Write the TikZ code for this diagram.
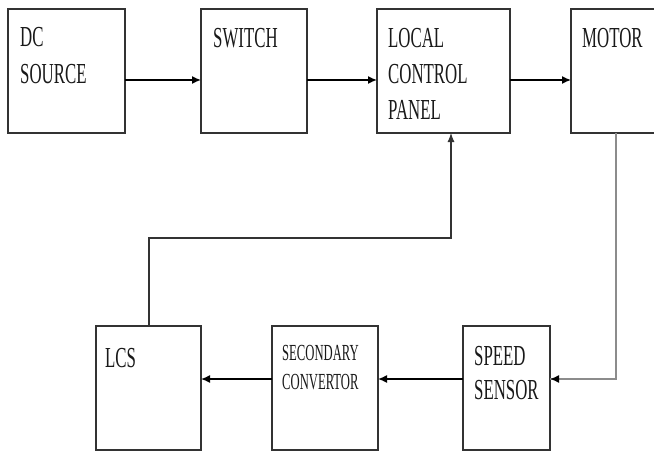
\documentclass[tikz,border=0pt]{standalone}
\usepackage{fontspec}
\setmainfont{Liberation Serif}
\newfontfamily\narrowfont[FakeStretch=0.58]{Liberation Serif}
\newfontfamily\narrowerfont[FakeStretch=0.55]{Liberation Serif}
\usetikzlibrary{arrows.meta,calc}
\begin{document}
\begin{tikzpicture}[x=1pt,y=-1pt,
  blk/.style={draw=black!80,line width=1.1pt,rectangle,inner sep=0pt,outer sep=0pt,anchor=north west},
  lbl/.style={anchor=north west,inner sep=0pt,align=left,text=black!90,font=\narrowfont\fontsize{29}{37}\selectfont},
  lblsm/.style={anchor=north west,inner sep=0pt,align=left,text=black!90,font=\narrowerfont\fontsize{23}{29}\selectfont},
  arr/.style={draw=black,line width=1.5pt,-{Latex[length=9pt,width=8pt]}},
  fb/.style={draw=black!45,line width=1.6pt},
  fbd/.style={draw=black!80,line width=1.1pt}]
\useasboundingbox (0,0) rectangle (654,452);
\fill[white] (0,0) rectangle (654,452);
% boxes
\node[blk,minimum width=117pt,minimum height=124pt] (dc) at (8,9) {};
\node[blk,minimum width=106pt,minimum height=124pt] (sw) at (201,9) {};
\node[blk,minimum width=133pt,minimum height=124pt] (lcp) at (377,9) {};
\node[blk,minimum width=100pt,minimum height=124pt] (mot) at (571,9) {};
\node[blk,minimum width=105pt,minimum height=124pt] (lcs) at (96,326) {};
\node[blk,minimum width=106pt,minimum height=124pt] (sec) at (272,326) {};
\node[blk,minimum width=87pt,minimum height=124pt] (spd) at (463,326) {};
% labels
\node[lbl] (tdc) at (20,27.5) {DC\\SOURCE};
\node[lbl] (tsw) at (213,28.5) {SWITCH};
\node[lbl,font=\narrowfont\fontsize{29}{36}\selectfont] (tlcp) at (388,28.5) {LOCAL\\CONTROL\\PANEL};
\node[lbl] (tmot) at (582,28.5) {MOTOR};
\node[lbl] (tlcs) at (105,348.5) {LCS};
\node[lblsm] (tsec) at (282,345.5) {SECONDARY\\CONVERTOR};
\node[lbl,font=\narrowfont\fontsize{29}{34}\selectfont] (tspd) at (474,346.5) {SPEED\\SENSOR};
% helper coordinates
\coordinate (r1) at (0,80);
\coordinate (r2) at (0,379);
\coordinate (m1) at (616,0);
\coordinate (c1) at (149,238);
\coordinate (c2) at (451,238);
% top row arrows
\draw[arr] (dc.east |- r1) -- (sw.west |- r1);
\draw[arr] (sw.east |- r1) -- (lcp.west |- r1);
\draw[arr] (lcp.east |- r1) -- (mot.west |- r1);
% motor feedback to speed sensor
\draw[fb] (mot.south -| m1) -- (m1 |- r2) -- (spd.east |- r2);
\draw[arr] ($(spd.east |- r2)+(8,0)$) -- (spd.east |- r2);
% bottom row arrows
\draw[arr] (spd.west |- r2) -- (sec.east |- r2);
\draw[arr] (sec.west |- r2) -- (lcs.east |- r2);
% LCS to local control panel
\draw[fbd,-{Latex[length=9pt,width=7pt]}] (lcs.north -| c1) -- (c1) -- (c2) -- (lcp.south -| c2);
\end{tikzpicture}
\end{document}
